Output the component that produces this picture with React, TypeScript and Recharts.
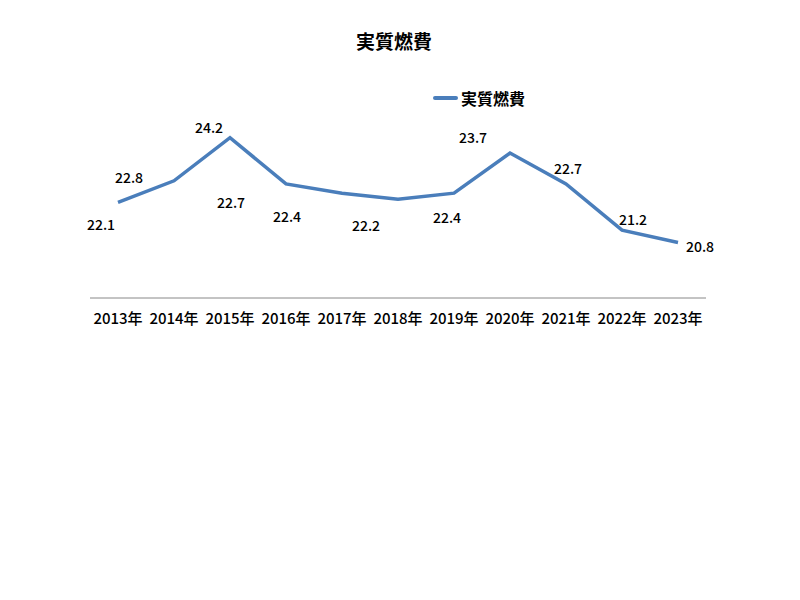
import React from 'react';
import { LineChart, Line, XAxis, YAxis, LabelList } from 'recharts';

const years = ['2013年', '2014年', '2015年', '2016年', '2017年', '2018年', '2019年', '2020年', '2021年', '2022年', '2023年'];
const fuelEconomy = [22.1, 22.8, 24.2, 22.7, 22.4, 22.2, 22.4, 23.7, 22.7, 21.2, 20.8];

// label offsets (dx, dy) relative to each point, as placed in the original
const labelOffsets: [number, number][] = [
  [-17, 22], [-45, -4], [-21, -11], [-55, 18], [-55, 23], [-32, 26],
  [-7, 24], [-37, -16], [2, -16], [11, -11], [22, 3],
];

const data = years.map((y, i) => ({ year: y, value: fuelEconomy[i] }));

const FONT = '"Noto Sans CJK JP", "Noto Sans", sans-serif';

function DataLabel(props: any) {
  const { x, y, value, index } = props;
  const [dx, dy] = labelOffsets[index] || [0, -12];
  return (
    <text x={x + dx} y={y + dy} textAnchor="middle" dominantBaseline="central" fontSize={14} fontWeight={500} fill="#000" fontFamily={FONT}>
      {value.toFixed(1)}
    </text>
  );
}

export default function App() {
  return (
    <div style={{ position: 'absolute', left: 0, top: 0, width: 800, height: 600, background: '#fff' }}>
      <div style={{ position: 'absolute', left: 0, top: 27, width: 788, textAlign: 'center', fontFamily: FONT, fontSize: 19, fontWeight: 'bold', color: '#000' }}>
        実質燃費
      </div>
      <div style={{ position: 'absolute', left: 433, top: 86, display: 'flex', alignItems: 'center', fontFamily: FONT, fontSize: 16, fontWeight: 'bold', color: '#000' }}>
        <span style={{ display: 'inline-block', width: 25, height: 4, background: '#4a7ebb', marginRight: 3, borderRadius: 2 }} />
        実質燃費
      </div>
      <LineChart width={800} height={600} data={data} margin={{ top: 113, right: 94, left: 90, bottom: 272 }}>
        <XAxis
          dataKey="year"
          padding={{ left: 28, right: 28 }}
          tickLine={false}
          tickSize={0}
          tickMargin={15}
          axisLine={{ stroke: '#888', strokeWidth: 1 }}
          tick={{ fontSize: 15, fill: '#000', fontFamily: FONT, fontWeight: 500 }}
          interval={0}
          height={30}
        />
        <YAxis hide domain={[19, 25]} />
        <Line type="linear" dataKey="value" stroke="#4a7ebb" strokeWidth={3.5} dot={false} isAnimationActive={false}>
          <LabelList dataKey="value" content={<DataLabel />} />
        </Line>
      </LineChart>
    </div>
  );
}
